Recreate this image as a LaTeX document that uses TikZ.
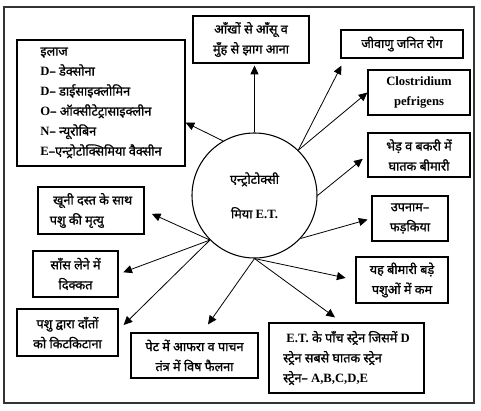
\documentclass[tikz,border=0pt]{standalone}
\usepackage{fontspec}
\setmainfont{Liberation Serif}
\newfontfamily\hin[Script=Devanagari, FakeBold=1.2]{Noto Sans}
\usepackage{tikz}
\usetikzlibrary{arrows.meta, positioning, calc}
\newcommand{\lat}[1]{{\rmfamily\bfseries #1}}

\begin{document}
\begin{tikzpicture}[x=0.75pt, y=-0.75pt,
    box/.style={rectangle, draw, line width=0.9pt, align=center, inner sep=2pt, font=\hin\fontsize{9.5}{15}\selectfont},
    arr/.style={-{Triangle[length=6.5pt, width=6pt]}, line width=0.6pt}]
    \useasboundingbox (0,0) rectangle (481,410);
    \draw[black!80, line width=1.1pt] (4,7) rectangle (474,403);

    % केंद्र
    \node[circle, draw, line width=0.8pt, minimum size=93.75pt, align=center, font=\hin\fontsize{9.5}{15}\selectfont] (et) at (254.5,195.5) {एन्ट्रोटोक्सी\\[11pt]मिया \lat{E.T.}};

    % ऊपर व बाएँ
    \node[box, minimum width=126pt, minimum height=94.5pt, align=left] (ilaj) at (101,103) {इलाज\\ \lat{D}– डेक्सोना\\ \lat{D}– डाईसाइक्लोमिन\\ \lat{O}– ऑक्सीटेट्रासाइक्लीन\\ \lat{N}– न्यूरोबिन\\ \lat{E}–एन्ट्रोटोक्सिमिया वैक्सीन};
    \node[box, minimum width=87pt, minimum height=35.25pt] (aankh) at (251,39.5) {आँखों से आँसू व\\ मुँह से झाग आना};

    % दाएँ
    \node[box, minimum width=91.5pt, minimum height=21pt] (jivanu) at (402,44) {जीवाणु जनित रोग};
    \node[box, minimum width=76.5pt, minimum height=33.75pt] (clos) at (419,92.5) {\lat{Clostridium}\\ \lat{pefrigens}};
    \node[box, minimum width=76.5pt, minimum height=33pt] (bhed) at (419,155) {भेड़ व बकरी में\\ घातक बीमारी};
    \node[box, minimum width=57pt, minimum height=33.75pt] (upnam) at (410,218.5) {उपनाम–\\ फड़किया};
    \node[box, minimum width=69pt, minimum height=34.5pt] (kam) at (402,280) {यह बीमारी बड़े\\ पशुओं में कम};
    \node[box, minimum width=116.25pt, minimum height=52.5pt, align=left] (strain) at (346.5,358) {\ \lat{E.T.} के पाँच स्ट्रेन जिसमें \lat{D}\\ स्ट्रेन सबसे घातक स्ट्रेन\\ स्ट्रेन– \lat{A,B,C,D,E}};

    % नीचे व बाएँ
    \node[box, minimum width=95.25pt, minimum height=33.75pt] (pet) at (194.5,355.5) {पेट में आफरा व पाचन\\ तंत्र में विष फैलना};
    \node[box, minimum width=79.5pt, minimum height=35.25pt, align=left] (khuni) at (91,210.5) {\ खूनी दस्त के साथ\\ पशु की मृत्यु};
    \node[box, minimum width=63.75pt, minimum height=34.5pt] (saans) at (75.5,274) {साँस लेने में\\ दिक्कत};
    \node[box, minimum width=75.75pt, minimum height=35.25pt] (daant) at (67.5,332.5) {पशु द्वारा दाँतों\\ को किटकिटाना};

    % तीर
    \draw[arr] (et.120) -- (ilaj.-13);
    \draw[arr, shorten >=1.5pt] (et.north) -- (et.north |- aankh.south);
    \draw[arr] (et.46) -- ([shift={(1,7)}]jivanu.south west);
    \draw[arr] (et.46) -- (clos.west);
    \draw[arr, shorten >=4.5pt] (et.east) -- (bhed.west);
    \draw[arr, shorten >=3pt] (et.-43) -- (upnam.west);
    \draw[arr, shorten >=7.5pt] (et.south) -- (kam.west);
    \draw[arr] (et.south) -- ([shift={(-11.5,-5)}]strain.north);
    \draw[arr] (et.south) -- ([shift={(13.5,-8)}]pet.north);
    \draw[arr, shorten >=6pt] (et.-135) -- (khuni.east);
    \draw[arr, shorten >=3.75pt] (et.-135) -- (saans.east);
    \draw[arr] (et.-135) -- ([shift={(5,-7.5)}]daant.east);
\end{tikzpicture}
\end{document}
